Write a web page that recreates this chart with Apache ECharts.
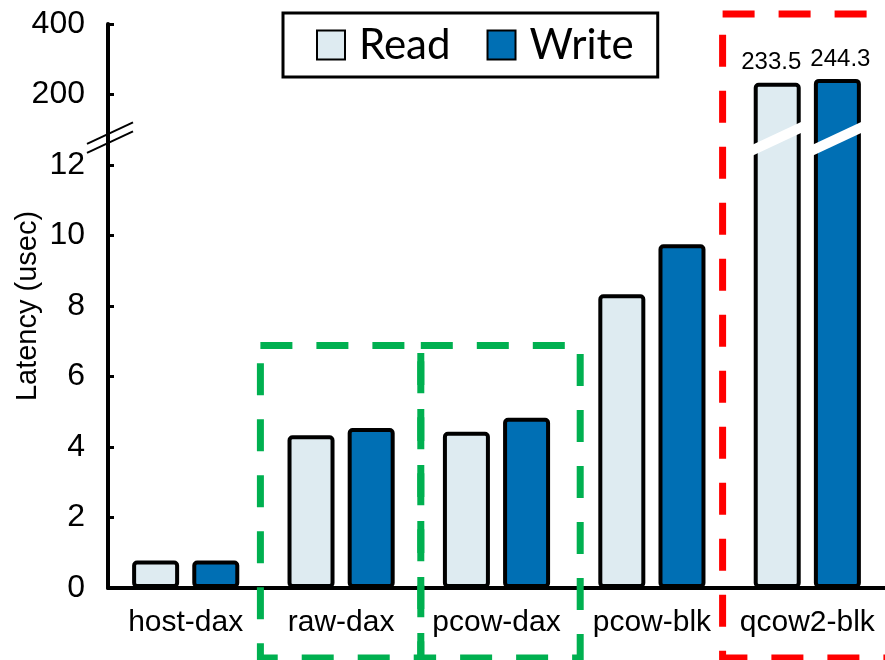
<!DOCTYPE html>
<html>
<head>
<meta charset="utf-8">
<script src="https://cdn.jsdelivr.net/npm/echarts@6/dist/echarts.min.js"></script>
<style>
    html, body { margin: 0; padding: 0; background: #fff; }
    #chart { width: 885px; height: 660px; }
</style>
</head>
<body>
<div id="chart"></div>
<script>
// data
var categories = ['host-dax', 'raw-dax', 'pcow-dax', 'pcow-blk', 'qcow2-blk'];
var readValues = [0.78, 4.33, 4.43, 8.33, 233.5];
var writeValues = [0.78, 4.54, 4.83, 9.75, 244.3];
var yTickLabels = ['0', '2', '4', '6', '8', '10', '12', '200', '400'];

var FONT = 'Liberation Sans, Arial, sans-serif';
var LEGEND_FONT = 'Lato, Open Sans, sans-serif';
var READ_COLOR = '#deebf1';
var WRITE_COLOR = '#006fb4';
var BREAK_AT = 12.75;   // where the axis break is drawn (axis units)

// broken axis: 0-12 linear, 12->200 squeezed into 2 units, 200->400 into 2 units
function toAxis(v) {
    if (v <= 12) return v;
    if (v <= 200) return 12 + (v - 12) / 188 * 2;
    return 14 + (v - 200) / 200 * 2;
}

function buildData(values) {
    return values.map(function(v) {
        return {value: toAxis(v), raw: v};
    });
}

var dom = document.getElementById('chart');
var myChart = echarts.init(dom, null, {renderer: 'canvas'});

function barSeries(name, values, color, labelShift) {
    return {
        name: name,
        type: 'bar',
        barWidth: 47,
        barGap: '28%',
        data: buildData(values),
        itemStyle: {
            color: color,
            borderColor: '#000',
            borderWidth: 4,
            borderRadius: 3
        },
        label: {
            show: true,
            position: 'top',
            distance: 8,
            offset: [labelShift, 0],
            fontFamily: FONT,
            fontSize: 24,
            color: '#000',
            formatter: function(p) {
                return p.data.raw > 12 ? String(p.data.raw) : '';
            }
        }
    };
}

var option = {
    animation: false,
    backgroundColor: '#fff',
    textStyle: {fontFamily: FONT},
    grid: {
        left: 108,
        right: 0,
        top: 24,
        bottom: 72,
        outerBoundsMode: 'none'
    },
    legend: {
        left: 283,
        top: 13,
        padding: [11, 24, 11, 33],
        borderColor: '#000',
        borderWidth: 3,
        itemWidth: 28,
        itemHeight: 29,
        itemGap: 36,
        icon: 'rect',
        textStyle: {
            fontFamily: LEGEND_FONT,
            fontSize: 42,
            color: '#000',
            padding: [0, 0, 0, 9]
        },
        data: ['Read', 'Write']
    },
    xAxis: {
        type: 'category',
        data: categories,
        axisLine: {lineStyle: {color: '#000', width: 4}},
        axisTick: {show: false},
        axisLabel: {
            interval: 0,
            fontFamily: FONT,
            fontSize: 30,
            color: '#000',
            margin: 20
        }
    },
    yAxis: {
        type: 'value',
        min: 0,
        max: 16,
        interval: 2,
        name: 'Latency (usec)',
        nameLocation: 'middle',
        nameGap: 66,
        nameMoveOverlap: false,
        nameTextStyle: {fontFamily: FONT, fontSize: 29, color: '#000'},
        axisLine: {show: true, lineStyle: {color: '#000', width: 4}},
        axisTick: {show: true, inside: true, length: 6, lineStyle: {color: '#000', width: 3}},
        splitLine: {show: false},
        axisLabel: {
            fontFamily: FONT,
            fontSize: 32,
            color: '#000',
            margin: 23,
            formatter: function(v) {
                return yTickLabels[Math.round(v / 2)];
            }
        }
    },
    series: [
        barSeries('Read', readValues, READ_COLOR, -6),
        barSeries('Write', writeValues, WRITE_COLOR, 3)
    ]
};

myChart.setOption(option, true);

// decorations: break marks and dashed highlight boxes
function addDecorations() {
    var elements = [];
    var breakY = myChart.convertToPixel({yAxisIndex: 0}, BREAK_AT);
    var c0 = myChart.convertToPixel({xAxisIndex: 0}, categories[0]);
    var c1 = myChart.convertToPixel({xAxisIndex: 0}, categories[1]);
    var half = (c1 - c0) / 2;
    var axisX = c0 - half;
    var slope = 0.47;

    // white band across bars that cross the break
    [0, 1].forEach(function(si) {
        var data = myChart.getModel().getSeriesByIndex(si).getData();
        var values = si === 0 ? readValues : writeValues;
        values.forEach(function(v, i) {
            if (v <= 12) return;
            var lay = data.getItemLayout(i);
            var x0 = lay.x - 4, x1 = lay.x + lay.width + 4;
            var cx = (x0 + x1) / 2;
            var h = 11;
            elements.push({
                type: 'polygon',
                z: 100,
                shape: {points: [
                    [x0, breakY + (cx - x0) * slope - h / 2],
                    [x1, breakY - (x1 - cx) * slope - h / 2],
                    [x1, breakY - (x1 - cx) * slope + h / 2],
                    [x0, breakY + (cx - x0) * slope + h / 2]
                ]},
                style: {fill: '#fff'}
            });
        });
    });

    // double slash on the y axis
    [-4.5, 4.5].forEach(function(off) {
        elements.push({
            type: 'line',
            z: 100,
            shape: {
                x1: axisX - 21, y1: breakY + off + 21 * slope,
                x2: axisX + 25, y2: breakY + off - 25 * slope
            },
            style: {stroke: '#000', lineWidth: 2}
        });
    });

    // dashed boxes
    var greenTop = myChart.convertToPixel({yAxisIndex: 0}, 6.88);
    function dashedBox(x0, y0, x1, y1, color) {
        return {
            type: 'rect',
            z: 90,
            shape: {x: x0, y: y0, width: x1 - x0, height: y1 - y0},
            style: {fill: null, stroke: color, lineWidth: 7, lineDash: [32, 24]}
        };
    }
    var raw = myChart.convertToPixel({xAxisIndex: 0}, 'raw-dax');
    var pcow = myChart.convertToPixel({xAxisIndex: 0}, 'pcow-dax');
    var qcow = myChart.convertToPixel({xAxisIndex: 0}, 'qcow2-blk');
    elements.push(dashedBox(raw - half - 3, greenTop, raw + half + 2, 658, '#00b050'));
    elements.push(dashedBox(pcow - half + 2, greenTop, pcow + half + 6, 658, '#00b050'));
    elements.push(dashedBox(qcow - half - 7, 14, qcow + half + 4, 658, '#ff0000'));

    myChart.setOption({graphic: {elements: elements}});
}

addDecorations();
</script>
</body>
</html>
